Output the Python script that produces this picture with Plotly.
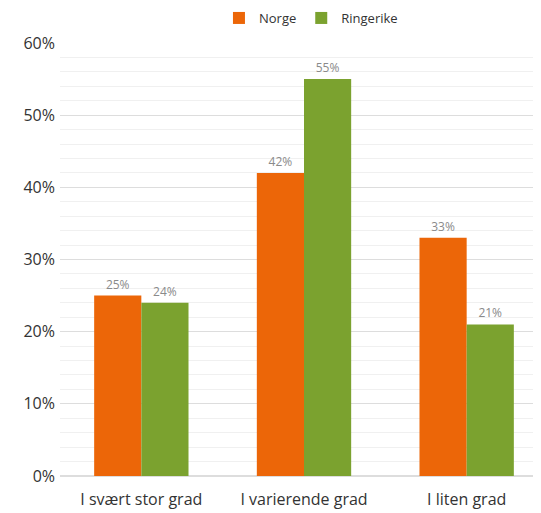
import plotly.graph_objects as go

categories = ["I svært stor grad", "I varierende grad", "I liten grad"]
norge = [25, 42, 33]
ringerike = [24, 55, 21]
y_ticks = [0, 10, 20, 30, 40, 50, 60]
y_tick_labels = ["0%", "10%", "20%", "30%", "40%", "50%", "60%"]

FONT = "Open Sans, sans-serif"

fig = go.Figure()
fig.add_trace(go.Bar(name="Norge", x=categories, y=norge, marker_color="#EC6608",
                     marker_line_width=0,
                     text=[f"{v}%" for v in norge], textposition="outside",
                     textfont=dict(size=12, color="#8a8a8a", family=FONT), cliponaxis=False))
fig.add_trace(go.Bar(name="Ringerike", x=categories, y=ringerike, marker_color="#7BA22F",
                     marker_line_width=0,
                     text=[f"{v}%" for v in ringerike], textposition="outside",
                     textfont=dict(size=12, color="#8a8a8a", family=FONT), cliponaxis=False))

fig.update_layout(
    width=541, height=513,
    margin=dict(l=52, r=1, t=35, b=45, autoexpand=False),
    paper_bgcolor="white", plot_bgcolor="white",
    barmode="group", bargap=0.42, bargroupgap=0,
    font=dict(family=FONT, color="#333333"),
    legend=dict(orientation="h", x=0.56, xanchor="center", xref="container",
                y=0.9805, yanchor="middle", yref="container",
                font=dict(size=13, color="#333333"),
                itemwidth=30, traceorder="normal"),
    xaxis=dict(tickfont=dict(size=16, color="#333333"), showgrid=False, automargin=False,
               ticks="", showline=False, ticklabelstandoff=12),
    yaxis=dict(range=[0, 60], tickvals=y_ticks, ticktext=y_tick_labels,
               tickfont=dict(size=16, color="#333333"), gridcolor="#dddddd", gridwidth=1,
               zeroline=True, zerolinecolor="#dddddd", zerolinewidth=1.5,
               minor=dict(dtick=2, showgrid=True, gridcolor="#f0f0f0", gridwidth=1),
               automargin=False, ticks="", ticklabelstandoff=4),
)

fig.write_html("out.html")
